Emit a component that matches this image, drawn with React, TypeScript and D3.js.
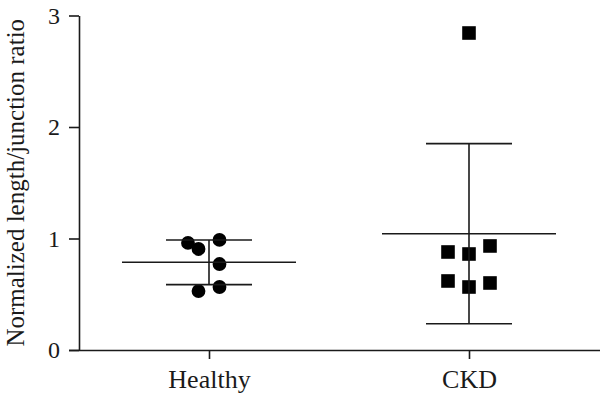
import { useEffect, useRef } from 'react';
import * as d3 from 'd3';

const CATEGORIES = ['Healthy', 'CKD'];
const HEALTHY_VALUES = [0.96, 0.906, 0.987, 0.771, 0.565, 0.529];
const CKD_VALUES = [2.843, 0.879, 0.861, 0.933, 0.619, 0.565, 0.601];
// scatter column of each point (-1 left, 0 middle, 1 right), as Prism arranges them
const HEALTHY_COLS = [-1, -0.5, 0.5, 0.5, 0.5, -0.5];
const CKD_COLS = [0, -1, 0, 1, -1, 0, 1];
const Y_TICKS = [0, 1, 2, 3];
const Y_LABEL = 'Normalized length/junction ratio';

export default function App() {
  const ref = useRef<SVGSVGElement>(null);

  useEffect(() => {
    if (!ref.current) return;
    const svg = d3.select(ref.current);
    svg.selectAll('*').remove();

    const width = 600;
    const height = 398;
    const font = '"Liberation Serif", "Times New Roman", serif';
    const ink = '#1a1a1a';

    const x = d3.scalePoint<string>().domain(CATEGORIES).range([79, 599]).padding(0.5);
    const y = d3.scaleLinear().domain([0, 3]).range([350, 15.5]);

    // Axes
    const yAxis = svg.append('g').attr('transform', 'translate(79,0)')
      .call(d3.axisLeft(y).tickValues(Y_TICKS).tickFormat(d3.format('d')).tickSize(10).tickPadding(9).tickSizeOuter(0));
    yAxis.selectAll('text').attr('font-size', 24).attr('font-family', font).attr('fill', ink);

    const xAxis = svg.append('g').attr('transform', 'translate(0,350)')
      .call(d3.axisBottom(x).tickSize(9).tickPadding(11).tickSizeOuter(0));
    xAxis.select('.domain').attr('d', `M69,0.5H600`);
    xAxis.selectAll('text').attr('font-size', 26).attr('font-family', font).attr('fill', ink);
    svg.selectAll('.domain,.tick line').attr('stroke', ink).attr('stroke-width', 1.6);

    // Axis label
    svg.append('text')
      .attr('transform', `translate(24,${(y(0) + y(3)) / 2}) rotate(-90)`)
      .attr('text-anchor', 'middle').attr('font-size', 25).attr('font-family', font)
      .attr('fill', ink).text(Y_LABEL);

    const groups = [
      { name: 'Healthy', values: HEALTHY_VALUES, cols: HEALTHY_COLS, shape: d3.symbolCircle },
      { name: 'CKD', values: CKD_VALUES, cols: CKD_COLS, shape: d3.symbolSquare },
    ];
    const colStep = 21;
    const meanHalf = 87;
    const capHalf = 43;

    groups.forEach(({ name, values, cols, shape }) => {
      const cx = x(name)!;
      const mean = d3.mean(values)!;
      const sd = d3.deviation(values)!;
      const g = svg.append('g');

      // points
      const sym = d3.symbol().type(shape).size(shape === d3.symbolCircle ? 150 : 185);
      g.selectAll('path.pt').data(values).join('path')
        .attr('class', 'pt')
        .attr('d', sym)
        .attr('transform', (d, i) => `translate(${cx + cols[i] * colStep},${y(d)})`)
        .attr('fill', '#000');

      // mean and SD
      g.append('line').attr('x1', cx - meanHalf).attr('x2', cx + meanHalf)
        .attr('y1', y(mean)).attr('y2', y(mean)).attr('stroke', ink).attr('stroke-width', 1.6);
      g.append('line').attr('x1', cx).attr('x2', cx)
        .attr('y1', y(mean + sd)).attr('y2', y(mean - sd)).attr('stroke', ink).attr('stroke-width', 1.6);
      [mean + sd, mean - sd].forEach(v => {
        g.append('line').attr('x1', cx - capHalf).attr('x2', cx + capHalf)
          .attr('y1', y(v)).attr('y2', y(v)).attr('stroke', ink).attr('stroke-width', 1.6);
      });
    });

    svg.attr('width', width).attr('height', height);
  }, []);

  return (
    <svg ref={ref} width={600} height={398}
      style={{ position: 'absolute', left: 0, top: 0, background: '#fff' }} />
  );
}
